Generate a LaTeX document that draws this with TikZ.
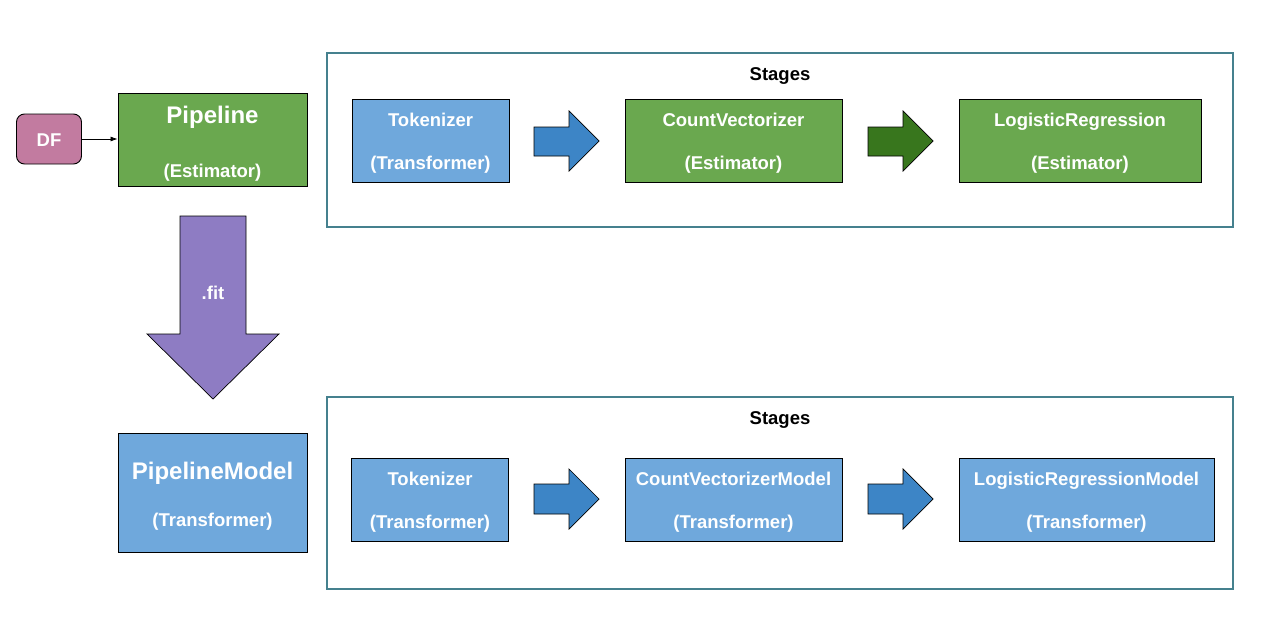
\documentclass[tikz,border=0pt]{standalone}
\usepackage{fontspec}
\setmainfont{Liberation Sans}
\usetikzlibrary{arrows.meta}
\definecolor{cgreen}{HTML}{6AA84F}
\definecolor{cdkgreen}{HTML}{38761D}
\definecolor{cblue}{HTML}{6FA8DC}
\definecolor{cdkblue}{HTML}{3D85C6}
\definecolor{cpurple}{HTML}{8E7CC3}
\definecolor{cmagenta}{HTML}{C27BA0}
\definecolor{cteal}{HTML}{45818E}
\tikzset{
  box/.style={draw=black, line width=0.9pt, inner sep=0pt},
  greenbox/.style={box, fill=cgreen},
  bluebox/.style={box, fill=cblue},
  frame/.style={draw=cteal, line width=2.6pt},
  wtxt/.style={text=white, font=\bfseries\fontsize{18.5}{20}\selectfont, anchor=base, inner sep=0pt},
  wbig/.style={text=white, font=\bfseries\fontsize{24}{26}\selectfont, anchor=base, inner sep=0pt},
  btxt/.style={text=black, font=\bfseries\fontsize{18.5}{20}\selectfont, anchor=base, inner sep=0pt},
  blk/.style={draw=black, line width=0.7pt, line join=miter},
}
\begin{document}
\begin{tikzpicture}[x=1pt,y=-1pt]
\useasboundingbox[fill=white] (0,0) rectangle (1268,618);

% DF and Pipeline
\node[box, fill=cmagenta, rounded corners=8pt, minimum width=65pt, minimum height=50pt] (df) at (49,139) {};
\node[wtxt] (dft) at (49,146) {DF};
\node[greenbox, minimum width=189pt, minimum height=93pt] (pipe) at (212.5,139.5) {};
\node[wbig] (pipet) at (212.5,123) {Pipeline};
\node[wtxt] (pipee) at (212.5,177) {(Estimator)};
\draw[line width=0.7pt, -{Latex[length=7pt,width=5pt]}] (df.east) -- (pipe.west |- df.east);

% top stages
\node[frame, minimum width=906pt, minimum height=174pt] (st1) at (780,140) {};
\node[btxt] (st1t) at (780,80) {Stages};
\node[bluebox, minimum width=157pt, minimum height=83pt] (tok1) at (430.5,140.5) {};
\node[wtxt] (tok1a) at (430.5,126) {Tokenizer};
\node[wtxt] (tok1b) at (430.5,169) {(Transformer)};
\node[greenbox, minimum width=217pt, minimum height=83pt] (cv1) at (733.5,140.5) {};
\node[wtxt] (cv1a) at (733.5,126) {CountVectorizer};
\node[wtxt] (cv1b) at (733.5,169) {(Estimator)};
\node[greenbox, minimum width=242pt, minimum height=83pt] (lr1) at (1080,140.5) {};
\node[wtxt] (lr1a) at (1080,126) {LogisticRegression};
\node[wtxt] (lr1b) at (1080,169) {(Estimator)};
\draw[blk, fill=cdkblue] (534,127) -- (569,127) -- (569,111) -- (599,141) -- (569,171) -- (569,156) -- (534,156) -- cycle;
\draw[blk, fill=cdkgreen] (868,127) -- (903,127) -- (903,111) -- (933,141) -- (903,171) -- (903,156) -- (868,156) -- cycle;

% fit arrow
\draw[blk, fill=cpurple] (180,216) -- (246,216) -- (246,334) -- (279,334) -- (213,399) -- (147,334) -- (180,334) -- cycle;
\node[wtxt] (fit) at (213,299) {.fit};

% PipelineModel
\node[bluebox, minimum width=189pt, minimum height=119pt] (pm) at (212.5,492.5) {};
\node[wbig] (pmt) at (212.5,479) {PipelineModel};
\node[wtxt] (pmb) at (212.5,526) {(Transformer)};

% bottom stages
\node[frame, minimum width=906pt, minimum height=192pt] (st2) at (780,493) {};
\node[btxt] (st2t) at (780,424) {Stages};
\node[bluebox, minimum width=157pt, minimum height=83pt] (tok2) at (430,499.5) {};
\node[wtxt] (tok2a) at (430,485) {Tokenizer};
\node[wtxt] (tok2b) at (430,528) {(Transformer)};
\node[bluebox, minimum width=217pt, minimum height=83pt] (cv2) at (733.5,499.5) {};
\node[wtxt] (cv2a) at (733.5,485) {CountVectorizerModel};
\node[wtxt] (cv2b) at (733.5,528) {(Transformer)};
\node[bluebox, minimum width=255pt, minimum height=83pt] (lr2) at (1086.5,499.5) {};
\node[wtxt] (lr2a) at (1086.5,485) {LogisticRegressionModel};
\node[wtxt] (lr2b) at (1086.5,528) {(Transformer)};
\draw[blk, fill=cdkblue] (534,484) -- (569,484) -- (569,469) -- (599,499) -- (569,529) -- (569,514) -- (534,514) -- cycle;
\draw[blk, fill=cdkblue] (868,484) -- (903,484) -- (903,469) -- (933,499) -- (903,529) -- (903,514) -- (868,514) -- cycle;
\end{tikzpicture}
\end{document}
